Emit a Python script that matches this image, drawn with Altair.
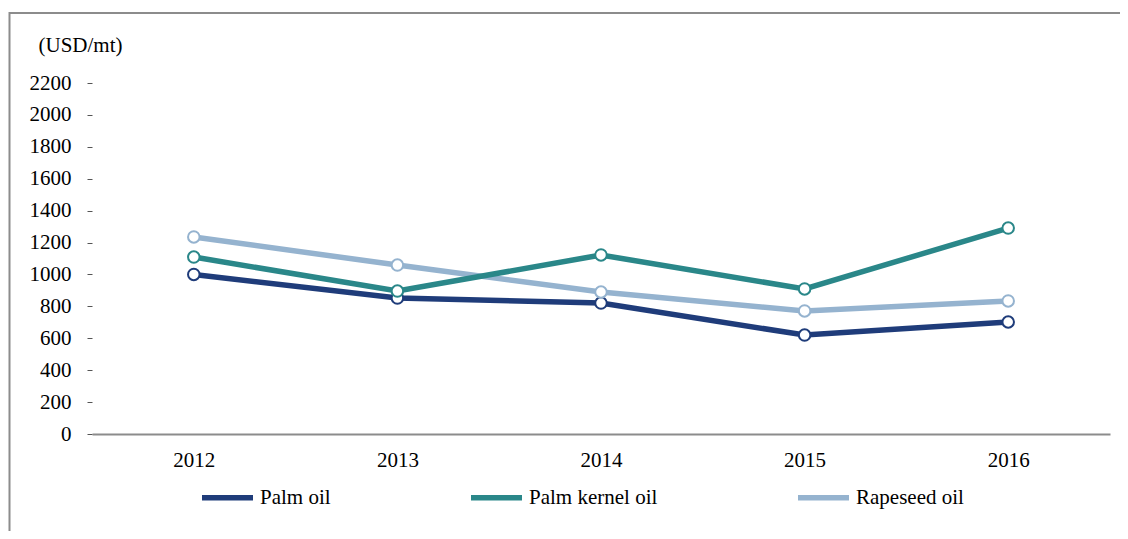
import altair as alt
import pandas as pd

years = ["2012", "2013", "2014", "2015", "2016"]
palm_oil = [1000, 852, 821, 620, 702]
palm_kernel_oil = [1109, 896, 1122, 909, 1291]
rapeseed_oil = [1235, 1059, 890, 771, 834]

series_names = ["Palm oil", "Palm kernel oil", "Rapeseed oil"]
series_colors = ["#1f3c7a", "#2a8789", "#95b3cf"]
y_ticks = [0, 200, 400, 600, 800, 1000, 1200, 1400, 1600, 1800, 2000, 2200]

rows = []
for name, vals in [("Palm oil", palm_oil), ("Rapeseed oil", rapeseed_oil), ("Palm kernel oil", palm_kernel_oil)]:
    for yr, v in zip(years, vals):
        rows.append({"year": yr, "value": v, "series": name})
df = pd.DataFrame(rows)
order_map = {"Palm oil": 0, "Rapeseed oil": 1, "Palm kernel oil": 2}
df["ord"] = df["series"].map(order_map)

FONT = "'Liberation Serif', 'Times New Roman', serif"
cscale = alt.Scale(domain=series_names, range=series_colors)

x_enc = alt.X("year:N", scale=alt.Scale(type="point", padding=0.5),
              axis=alt.Axis(title=None, labelAngle=0, ticks=False, domainColor="#8c8c8c",
                            domainWidth=2, labelFont=FONT, labelFontSize=21,
                            labelColor="#000", labelPadding=15, grid=False))
y_enc = alt.Y("value:Q", scale=alt.Scale(domain=[0, 2200], nice=False),
              axis=alt.Axis(title="(USD/mt)", values=y_ticks, format="d", labelOverlap=False,
                            domain=False, grid=False,
                            tickSize=5, tickColor="#555", labelFont=FONT, labelFontSize=21,
                            labelColor="#000", labelPadding=16,
                            titleAngle=0, titleAlign="left", titleBaseline="middle",
                            titleX=-54, titleY=-38, titleFont=FONT, titleFontSize=21,
                            titleFontWeight="normal", titleColor="#000"))

base = alt.Chart(df)

lines = base.mark_line(strokeWidth=5.5).encode(
    x=x_enc, y=y_enc,
    color=alt.Color("series:N", scale=cscale,
                    legend=alt.Legend(title=None, orient="none", legendX=107, legendY=386,
                                      direction="horizontal", symbolType="stroke",
                                      symbolSize=2601, symbolStrokeWidth=5.5,
                                      labelFont=FONT, labelFontSize=21, labelColor="#000",
                                      labelOffset=4, columnPadding=129)),
    detail="series:N",
    order="ord:Q",
)

ring_pts = base.mark_point(filled=False, opacity=1, size=133, strokeWidth=2, fill="white").encode(
    x=x_enc, y=y_enc,
    stroke=alt.Stroke("series:N", scale=cscale, legend=None),
    order="ord:Q",
)

border = alt.Chart(alt.Data(values=[{}])).mark_rect(
    fill="transparent", stroke="#8c8c8c", strokeWidth=2
).encode(
    x=alt.value(-82.5), x2=alt.value(1080), y=alt.value(-70), y2=alt.value(480)
)

chart = alt.layer(border, lines, ring_pts).properties(
    width=1018, height=351,
    autosize=alt.AutoSizeParams(type="none"),
    padding={"left": 84, "top": 75, "right": 10, "bottom": 97},
).configure(background="white").configure_view(strokeWidth=0)

chart.save("out.html", embed_options={"renderer": "svg", "actions": False})
